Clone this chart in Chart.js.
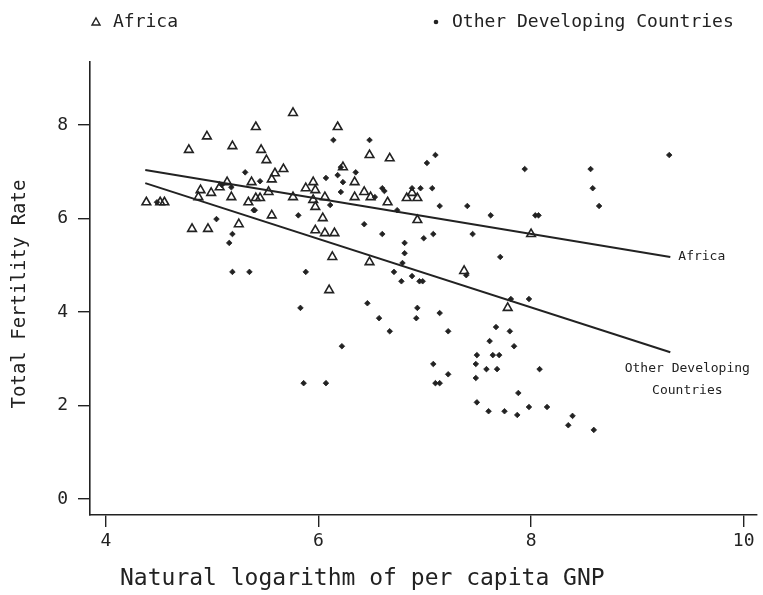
<!DOCTYPE html>
<html>
<head>
<meta charset="utf-8">
<script src="https://cdn.jsdelivr.net/npm/chart.js@4.4.1/dist/chart.umd.min.js"></script>
<style>
  html,body{margin:0;background:#fff}
  #wrap{width:763px;height:595px;position:relative}
</style>
</head>
<body>
<div id="wrap"><canvas id="c"></canvas></div>
<script>
const INK = '#222';
const MONO = "'DejaVu Sans Mono', 'Liberation Mono', monospace";

const X_TICKS = [4, 6, 8, 10];
const Y_TICKS = [0, 2, 4, 6, 8];

// ln(GNP per capita) and total fertility rate, African countries
const AFRICA_X = [4.38,4.51,4.55,4.78,4.95,5.19,5.41,5.76,6.18,5.46,5.51,5.67,5.59,5.56,5.37,
  4.89,4.99,4.87,5.07,5.14,5.18,5.34,5.41,5.45,5.53,5.76,5.88,5.95,5.97,5.95,5.97,6.06,
  4.81,4.96,5.25,5.56,6.48,6.67,6.23,6.34,6.34,6.43,6.49,6.65,6.83,6.88,6.93,6.93,
  6.04,5.97,6.06,6.15,6.13,6.48,6.10,7.37,7.78,8.00];
const AFRICA_Y = [6.35,6.35,6.35,7.47,7.76,7.55,7.96,8.26,7.96,7.47,7.25,7.06,6.97,6.84,6.78,
  6.61,6.55,6.46,6.67,6.78,6.46,6.35,6.44,6.44,6.57,6.46,6.65,6.78,6.61,6.40,6.25,6.46,
  5.78,5.78,5.88,6.07,7.36,7.29,7.10,6.78,6.46,6.57,6.46,6.35,6.44,6.55,6.44,5.97,
  6.01,5.75,5.69,5.69,5.18,5.07,4.47,4.88,4.09,5.67];

// other developing countries
const OTHER_X = [4.48,5.04,5.19,5.16,5.40,5.31,5.45,5.09,5.18,5.81,5.39,
  5.19,5.35,5.88,5.83,5.86,6.07,
  6.81,6.79,6.71,6.78,6.88,6.95,6.98,
  6.46,6.57,6.67,6.93,6.92,7.14,7.22,6.22,
  7.71,7.39,7.81,7.98,7.67,7.80,7.61,7.84,
  7.49,7.64,7.70,7.08,7.22,7.10,7.14,
  7.48,7.58,7.68,8.08,7.48,7.88,7.49,7.60,7.75,7.87,
  7.98,8.15,8.39,8.35,8.59,
  7.94,8.56,8.58,8.64,7.62,8.04,8.07,9.30,
  6.14,6.48,7.10,7.02,6.35,6.07,6.21,6.18,6.23,6.21,
  6.60,6.62,6.53,6.88,6.96,7.07,7.14,7.40,6.74,
  6.43,6.60,6.99,7.08,7.45,6.81,6.11];
const OTHER_Y = [6.35,5.99,5.67,5.48,6.18,6.99,6.80,6.72,6.67,6.07,6.18,
  4.86,4.86,4.86,4.09,2.48,2.48,
  5.26,5.05,4.86,4.66,4.77,4.66,4.66,
  4.19,3.87,3.59,4.09,3.87,3.98,3.59,3.27,
  5.18,4.79,4.28,4.28,3.68,3.59,3.38,3.27,
  3.08,3.08,3.08,2.89,2.67,2.48,2.48,
  2.89,2.78,2.78,2.78,2.59,2.27,2.07,1.88,1.88,1.80,
  1.97,1.97,1.78,1.58,1.48,
  7.06,7.06,6.65,6.27,6.07,6.07,6.07,7.36,
  7.68,7.68,7.36,7.19,6.99,6.87,7.10,6.93,6.78,6.57,
  6.65,6.59,6.46,6.65,6.65,6.65,6.27,6.27,6.18,
  5.88,5.67,5.58,5.67,5.67,5.48,6.29];

// fitted regression lines, evaluated at both ends of the x range
const FIT_X = [4.37, 9.31];
const AFRICA_FIT = [7.04, 5.18];
const OTHER_FIT = [6.76, 3.14];

const pts = (xs, ys) => xs.map((x, i) => ({x, y: ys[i]}));

function text(ctx, str, x, y, size, align, sx){
  ctx.save();
  ctx.font = size + 'px ' + MONO;
  ctx.fillStyle = INK;
  ctx.textBaseline = 'middle';
  ctx.textAlign = align || 'left';
  ctx.translate(x, y);
  ctx.scale(sx || 1, 1);
  ctx.fillText(str, 0, 0);
  ctx.restore();
}

const decorations = {
  id: 'decorations',
  afterDraw(chart){
    const {ctx, scales:{x, y}} = chart;
    // top legend
    ctx.save();
    ctx.strokeStyle = INK; ctx.lineWidth = 1.4;
    ctx.beginPath();
    ctx.moveTo(92, 25); ctx.lineTo(100, 25); ctx.lineTo(96, 18); ctx.closePath();
    ctx.stroke();
    ctx.fillStyle = INK;
    ctx.beginPath(); ctx.arc(436, 22, 2.3, 0, Math.PI*2); ctx.fill();
    ctx.restore();
    text(ctx, 'Africa', 113, 22, 18);
    text(ctx, 'Other Developing Countries', 452, 22, 18);

    // labels at the ends of the fitted lines
    const ax = x.getPixelForValue(FIT_X[1]);
    text(ctx, 'Africa', ax + 8, y.getPixelForValue(AFRICA_FIT[1]), 13);
    const oy = y.getPixelForValue(OTHER_FIT[1]);
    text(ctx, 'Other Developing', ax + 17, oy + 16, 13, 'center');
    text(ctx, 'Countries', ax + 17, oy + 38, 13, 'center');

    // axis titles
    text(ctx, 'Natural logarithm of per capita GNP', 120, 579, 23);
    ctx.save();
    ctx.translate(20, 294);
    ctx.rotate(-Math.PI/2);
    text(ctx, 'Total Fertility Rate', 0, 0, 19, 'center');
    ctx.restore();
  }
};

const axisCommon = {
  type: 'linear',
  grid: {display: true, drawOnChartArea: false, drawTicks: true, tickLength: 12, color: INK, lineWidth: 1.4},
  border: {display: true, color: INK, width: 1.6},
  ticks: {font: {family: MONO, size: 18}, color: INK, maxRotation: 0, autoSkip: false}
};

new Chart(document.getElementById('c'), {
  type: 'scatter',
  data: {
    datasets: [
      {label: 'Africa', data: pts(AFRICA_X, AFRICA_Y), pointStyle: 'triangle', pointRadius: 5,
       borderColor: INK, backgroundColor: 'rgba(255,255,255,0)', pointBorderWidth: 1.6},
      {label: 'Other Developing Countries', data: pts(OTHER_X, OTHER_Y), pointStyle: 'rectRot', pointRadius: 2.8,
       borderColor: INK, backgroundColor: INK, pointBorderWidth: 0.8},
      {label: 'Africa fit', data: pts(FIT_X, AFRICA_FIT), showLine: true, pointRadius: 0,
       borderColor: INK, borderWidth: 2},
      {label: 'Other fit', data: pts(FIT_X, OTHER_FIT), showLine: true, pointRadius: 0,
       borderColor: INK, borderWidth: 2}
    ]
  },
  options: {
    responsive: true,
    maintainAspectRatio: false,
    animation: false,
    layout: {padding: {top: 62, left: 0, right: 0, bottom: 0}},
    plugins: {legend: {display: false}, tooltip: {enabled: false}},
    scales: {
      x: {...axisCommon, min: 3.85, max: 10.12,
        ticks: {...axisCommon.ticks, padding: 4},
        afterBuildTicks: s => { s.ticks = X_TICKS.map(v => ({value: v})); },
        afterFit: s => { s.height = 80; s.paddingLeft = 0; s.paddingRight = 0; }},
      y: {...axisCommon, min: -0.34, max: 9.35,
        ticks: {...axisCommon.ticks, padding: 10},
        afterBuildTicks: s => { s.ticks = Y_TICKS.map(v => ({value: v})); },
        afterFit: s => { s.width = 90; s.paddingTop = 0; s.paddingBottom = 0; }}
    }
  },
  plugins: [decorations]
});
</script>
</body>
</html>
